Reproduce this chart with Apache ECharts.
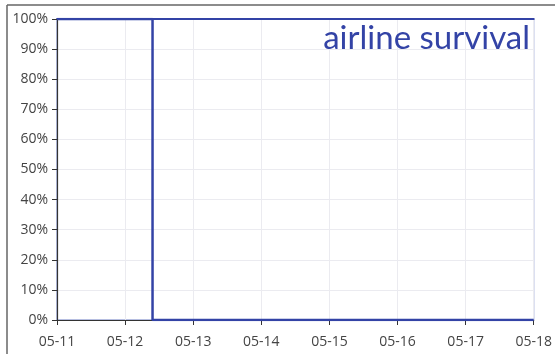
<!DOCTYPE html>
<html>
<head>
<meta charset="utf-8">
<script src="https://cdn.jsdelivr.net/npm/echarts@6/dist/echarts.min.js"></script>
<style>
html,body{margin:0;padding:0;background:#fff;}
#chart{width:555px;height:354px;}
</style>
</head>
<body>
<div id="chart"></div>
<script>
// Data
const timestamps = ['2020-05-11 00:00', '2020-05-12 09:40', '2020-05-18 00:00'];
const survival = [100, 0, 0];
const xMin = '2020-05-11';
const xMax = '2020-05-18';
const yTicks = [0, 10, 20, 30, 40, 50, 60, 70, 80, 90, 100];
const titleText = 'airline survival';

const chart = echarts.init(document.getElementById('chart'));
const labelFont = {color: '#444', fontSize: 14, fontFamily: '"Open Sans", "Noto Sans", sans-serif'};
const DAY = 24 * 3600 * 1000;
chart.setOption({
  animation: false,
  backgroundColor: '#fff',
  graphic: [
    {type: 'line', shape: {x1: 7, y1: 5, x2: 555, y2: 5}, style: {stroke: '#666', lineWidth: 1.5}, z: 10},
    {type: 'line', shape: {x1: 7, y1: 5, x2: 7, y2: 354}, style: {stroke: '#666', lineWidth: 1.5}, z: 10},
    {type: 'text', right: 25, top: 22, style: {text: titleText, fill: '#3343a6', font: '33px Lato, "Noto Sans", sans-serif'}, z: 20}
  ],
  grid: {left: 57, right: 18, top: 19, bottom: 34, show: true, borderColor: '#6c7cc2', borderWidth: 1},
  xAxis: [{
    type: 'time',
    min: xMin, max: xMax,
    interval: DAY,
    minInterval: DAY,
    axisLine: {show: true, lineStyle: {color: '#333', width: 1.2}},
    axisTick: {show: true, length: 5, lineStyle: {color: '#333'}},
    axisLabel: Object.assign({margin: 15, showMinLabel: true, showMaxLabel: true, hideOverlap: false,
      formatter: function (v) { return echarts.time.format(v, '{MM}-{dd}', false); }}, labelFont),
    splitLine: {show: true, lineStyle: {color: '#ebebf0'}}
  }, {
    type: 'time',
    position: 'top',
    min: xMin, max: xMax,
    axisLine: {show: true, lineStyle: {color: '#3343a6', width: 2}},
    axisTick: {show: false},
    axisLabel: {show: false},
    splitLine: {show: false}
  }],
  yAxis: {
    type: 'value',
    min: 0, max: 100, interval: 10,
    axisLine: {show: true, lineStyle: {color: '#333', width: 1.2}},
    axisTick: {show: true, length: 5, lineStyle: {color: '#333'}},
    axisLabel: Object.assign({margin: 9, formatter: function (v) { return yTicks.indexOf(v) >= 0 ? v + '%' : ''; }}, labelFont),
    splitLine: {show: true, lineStyle: {color: '#ebebf0'}}
  },
  series: [{
    type: 'line',
    step: 'end',
    showSymbol: false,
    symbol: 'none',
    data: timestamps.map((t, i) => [t, survival[i]]),
    lineStyle: {color: '#3343a6', width: 2.5},
    z: 5
  }]
});
</script>
</body>
</html>
